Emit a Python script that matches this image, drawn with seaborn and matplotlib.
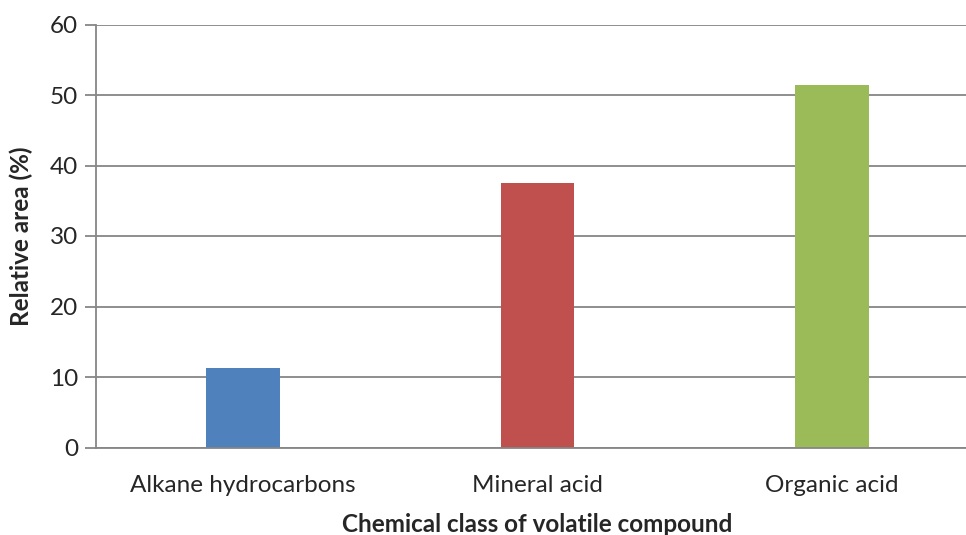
import matplotlib
matplotlib.use("Agg")
import matplotlib.pyplot as plt
import seaborn as sns
import pandas as pd

categories = ["Alkane hydrocarbons", "Mineral acid", "Organic acid"]
values = [11.3, 37.5, 51.4]
colors = ["#4F81BD", "#C0504D", "#9BBB59"]
yticks = [0, 10, 20, 30, 40, 50, 60]

sns.set_theme(style="white")
plt.rcParams['font.family'] = ['Lato', 'DejaVu Sans']

df = pd.DataFrame({"cat": categories, "val": values})

fig = plt.figure(figsize=(9.66, 5.35), dpi=100)
ax = fig.add_axes([96/966, 1 - 447.5/535, (979-96)/966, (447.5-24.5)/535])

sns.barplot(data=df, x="cat", y="val", hue="cat", palette=colors, width=0.25,
            legend=False, ax=ax, saturation=1, edgecolor="none")

ax.set_ylim(0, 60)
ax.set_xlim(-0.5, 2.5)
ax.set_yticks(yticks)
ax.yaxis.grid(True, color="#868686", linewidth=1.3)
ax.set_axisbelow(True)
for s in ["top", "right"]:
    ax.spines[s].set_visible(False)
for s in ["left", "bottom"]:
    ax.spines[s].set_color("#868686")
    ax.spines[s].set_linewidth(1.3)
ax.tick_params(axis="y", length=8, width=1.3, color="#868686", labelsize=17.5, pad=5, left=True)
ax.tick_params(axis="x", length=0, labelsize=17.5, pad=20)
ax.set_xlabel("Chemical class of volatile compound", fontsize=17.5, fontweight="bold", labelpad=12)
ax.set_ylabel("Relative area (%)", fontsize=17.5, fontweight="bold", labelpad=12)

fig.savefig("out.png", dpi=100)
